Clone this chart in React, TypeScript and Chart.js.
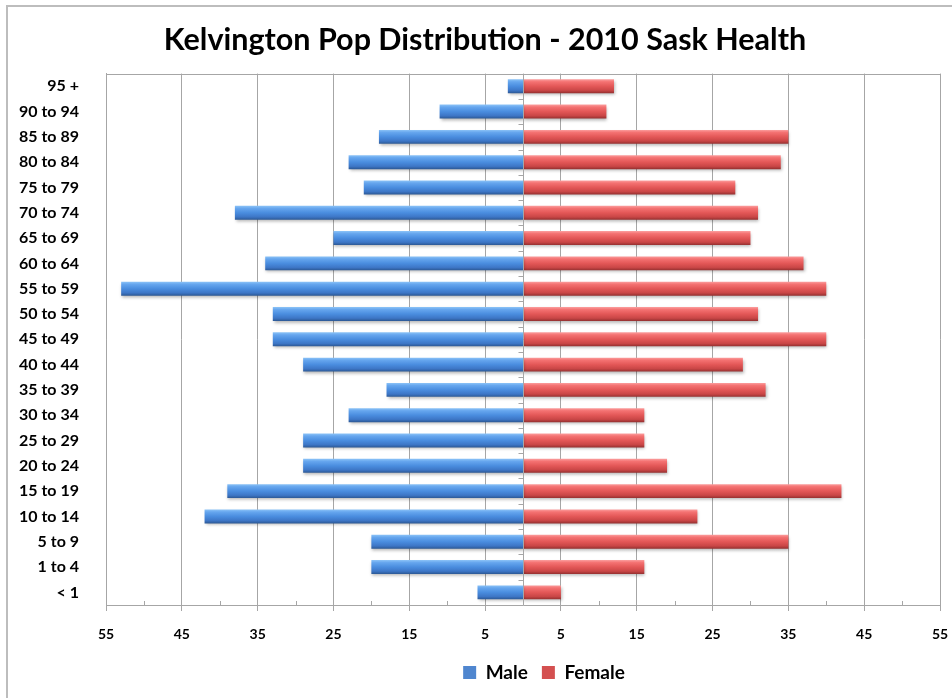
import React, { useEffect, useRef } from "react";
import { Chart, registerables } from "chart.js";

Chart.register(...registerables);

const ageGroups = [
  "95 +", "90 to 94", "85 to 89", "80 to 84", "75 to 79", "70 to 74", "65 to 69",
  "60 to 64", "55 to 59", "50 to 54", "45 to 49", "40 to 44", "35 to 39", "30 to 34",
  "25 to 29", "20 to 24", "15 to 19", "10 to 14", "5 to 9", "1 to 4", "< 1",
];
const maleValues = [2, 11, 19, 23, 21, 38, 25, 34, 53, 33, 33, 29, 18, 23, 29, 29, 39, 42, 20, 20, 6];
const femaleValues = [12, 11, 35, 34, 28, 31, 30, 37, 40, 31, 40, 29, 32, 16, 16, 19, 42, 23, 35, 16, 5];
const axisMin = -55;
const axisMax = 55;
const axisStep = 10;

const FONT = "Lato, 'Open Sans', 'DejaVu Sans', sans-serif";
const BAR_PCT = 0.55;
const GRID = "#a6a6a6";
const legendColors = ["#4f86cf", "#d45050"];

const blueStops: [number, string][] = [
  [0, "#8cc3f7"], [0.18, "#66a6ee"], [0.5, "#4a8ddf"], [0.8, "#3d76c6"], [1, "#2c5894"],
];
const redStops: [number, string][] = [
  [0, "#fb9e9e"], [0.18, "#f47272"], [0.5, "#e35757"], [0.8, "#c94646"], [1, "#943030"],
];

export default function App() {
  const ref = useRef<HTMLCanvasElement>(null);

  useEffect(() => {
    if (!ref.current) return;

    const barFill = (stops: [number, string][], solid: string) => (c: any) => {
      if (c.type !== "data") return solid;
      const chart = c.chart;
      const y = chart.scales && chart.scales.y;
      if (!y || !chart.chartArea || !isFinite(y.height)) return solid;
      const cy = y.getPixelForValue(c.dataIndex);
      const h = (y.height / ageGroups.length) * BAR_PCT;
      if (!isFinite(cy) || !isFinite(h)) return solid;
      const g = chart.ctx.createLinearGradient(0, cy - h / 2, 0, cy + h / 2);
      stops.forEach(([o, col]) => g.addColorStop(o, col));
      return g;
    };

    const decor = {
      id: "decor",
      beforeDraw(chart: any) {
        const { ctx, width, height } = chart;
        ctx.save();
        ctx.fillStyle = "#ffffff";
        ctx.fillRect(0, 0, width, height);
        ctx.strokeStyle = "#bdbdbd";
        ctx.lineWidth = 2;
        ctx.beginPath();
        ctx.moveTo(7, height);
        ctx.lineTo(7, 6);
        ctx.lineTo(width, 6);
        ctx.stroke();
        ctx.restore();
      },
      afterLayout(chart: any) {
        const lg = chart.legend;
        if (lg) {
          lg.left += 74;
          lg.right += 74;
        }
        const tt = chart.titleBlock;
        if (tt) {
          tt.left += 15;
          tt.right += 15;
        }
      },
      beforeDatasetsDraw(chart: any) {
        const { ctx, chartArea: a, scales } = chart;
        const x = scales.x;
        ctx.save();
        ctx.strokeStyle = GRID;
        ctx.lineWidth = 1;
        ctx.beginPath();
        ctx.moveTo(a.left, Math.round(a.top) + 0.5);
        ctx.lineTo(a.right, Math.round(a.top) + 0.5);
        for (let v = axisMin + axisStep / 2; v < axisMax; v += axisStep) {
          if (v === 0) continue;
          const px = Math.round(x.getPixelForValue(v)) + 0.5;
          ctx.moveTo(px, a.bottom);
          ctx.lineTo(px, a.bottom - 4);
        }
        ctx.stroke();
        ctx.restore();
        ctx.save();
        ctx.shadowColor = "rgba(0,0,0,0.28)";
        ctx.shadowOffsetX = 1;
        ctx.shadowOffsetY = 2;
        ctx.shadowBlur = 3;
      },
      afterDatasetsDraw(chart: any) {
        const { ctx, chartArea: a, scales } = chart;
        ctx.restore();
        const x = scales.x;
        const y = scales.y;
        const zx = Math.round(x.getPixelForValue(0)) + 0.5;
        ctx.save();
        ctx.strokeStyle = GRID;
        ctx.lineWidth = 1;
        ctx.beginPath();
        ctx.moveTo(zx, a.top);
        ctx.lineTo(zx, a.bottom);
        const n = ageGroups.length;
        for (let i = 0; i <= n; i++) {
          const py = Math.round(y.top + (i * y.height) / n) + 0.5;
          ctx.moveTo(zx - 5, py);
          ctx.lineTo(zx, py);
        }
        ctx.stroke();
        ctx.restore();
      },
    };

    const chart = new Chart(ref.current, {
      type: "bar",
      data: {
        labels: ageGroups,
        datasets: [
          {
            label: "Male",
            data: maleValues.map((v) => -v),
            backgroundColor: barFill(blueStops, legendColors[0]) as any,
            borderWidth: 0,
            barPercentage: BAR_PCT,
            categoryPercentage: 1,
          },
          {
            label: "Female",
            data: femaleValues,
            backgroundColor: barFill(redStops, legendColors[1]) as any,
            borderWidth: 0,
            barPercentage: BAR_PCT,
            categoryPercentage: 1,
          },
        ],
      },
      options: {
        indexAxis: "y",
        responsive: false,
        animation: false,
        layout: { padding: { left: 0, right: 12, top: 0, bottom: 6 } },
        plugins: {
          title: {
            display: true,
            text: "Kelvington Pop Distribution - 2010 Sask Health",
            color: "#000",
            font: { family: FONT, size: 30.5, weight: "bold" },
            padding: { top: 22, bottom: 15 },
          },
          legend: {
            position: "bottom",
            labels: {
              color: "#000",
              font: { family: FONT, size: 19, weight: "bold" },
              boxWidth: 13,
              boxHeight: 13,
              padding: 14,
              generateLabels: (ch: any) => {
                const items = Chart.defaults.plugins.legend.labels.generateLabels(ch);
                return items.map((it: any, i: number) => ({
                  ...it,
                  fillStyle: legendColors[i % legendColors.length],
                  strokeStyle: legendColors[i % legendColors.length],
                  lineWidth: 0,
                }));
              },
            },
          },
          tooltip: { enabled: false },
        },
        scales: {
          x: {
            type: "linear",
            stacked: true,
            min: axisMin,
            max: axisMax,
            afterFit: (s: any) => {
              s.height = 44;
              s.paddingLeft = 0;
              s.paddingRight = 0;
            },
            ticks: {
              stepSize: axisStep,
              color: "#000",
              font: { family: FONT, size: 14, weight: "bold" },
              padding: 15,
              maxRotation: 0,
              callback: (v: any) => String(Math.abs(Number(v))),
            },
            grid: { color: GRID, lineWidth: 1, tickLength: 6, drawTicks: true },
            border: { display: true, color: GRID },
          },
          y: {
            type: "category",
            stacked: true,
            afterFit: (s: any) => {
              s.width = 106;
            },
            ticks: {
              color: "#000",
              font: { family: FONT, size: 16, weight: "bold" },
              padding: 19,
            },
            grid: { display: false },
            border: { display: true, color: GRID },
          },
        },
      },
      plugins: [decor],
    });

    return () => chart.destroy();
  }, []);

  return (
    <div style={{ position: "absolute", left: 0, top: 0, width: 952, height: 698 }}>
      <canvas ref={ref} width={952} height={698} style={{ display: "block" }} />
    </div>
  );
}
